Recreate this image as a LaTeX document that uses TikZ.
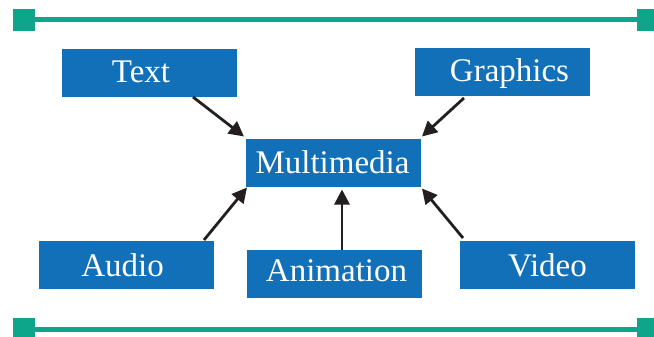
\documentclass[tikz,border=0pt]{standalone}
\usepackage{fontspec}
\setmainfont{Liberation Serif}
\usetikzlibrary{arrows.meta,calc}
\definecolor{boxblue}{RGB}{18,112,184}
\definecolor{barteal}{RGB}{14,166,138}
\definecolor{arrowdark}{RGB}{35,31,32}
\tikzset{
  box/.style={draw=none,fill=boxblue,minimum width=175pt,minimum height=48pt,inner sep=0pt,outer sep=0pt},
  lbl/.style={anchor=base,text=white,inner sep=0pt,font=\fontsize{33}{36}\selectfont},
  endsq/.style={draw=none,fill=barteal,minimum size=22pt,inner sep=0pt,outer sep=0pt},
  bar/.style={draw=barteal,line width=5pt},
  conn/.style={draw=arrowdark,line width=2.8pt,-{Triangle[length=15pt,width=15pt]}}
}
\begin{document}
\begin{tikzpicture}[x=1pt,y=-1pt]
\useasboundingbox (0,0) rectangle (654,337);
% bars
\node[endsq] (tl) at (24,20) {};
\node[endsq] (tr) at (648,20) {};
\node[endsq] (bl) at (24,329) {};
\node[endsq] (br) at (648,329) {};
\draw[bar] (tl) -- (tr);
\draw[bar] (bl) -- (br);
% boxes
\node[box] (M) at (333.5,162.5) {};
\node[box] (T) at (149.5,73) {};
\node[box] (G) at (502.5,72) {};
\node[box] (A) at (126.5,265) {};
\node[box] (N) at (334.5,274) {};
\node[box] (V) at (547.5,265) {};
% labels
\node[lbl] (Ml) at (332.5,173) {Multimedia};
\node[lbl] (Tl) at (141,82.7) {Text};
\node[lbl] (Gl) at (509.5,82) {Graphics};
\node[lbl] (Al) at (122.5,276.7) {Audio};
\node[lbl] (Nl) at (336.5,281.7) {Animation};
\node[lbl] (Vl) at (547.5,276) {Video};
% connectors
\draw[conn] ($(T.south east)+(-44,0)$) -- ($(M.north west)+(-2,-2)$);
\draw[conn] ($(G.south west)+(49,2)$) -- ($(M.north east)+(1,-2)$);
\draw[conn] ($(A.north east)+(-10,-1)$) -- ($(M.south west)+(1,1)$);
\draw[conn] ($(N.north)+(7.5,0)$) -- ($(M.south)+(8.5,3)$);
\draw[conn] ($(V.north west)+(3,-3)$) -- ($(M.south east)+(1,2)$);
\end{tikzpicture}
\end{document}
